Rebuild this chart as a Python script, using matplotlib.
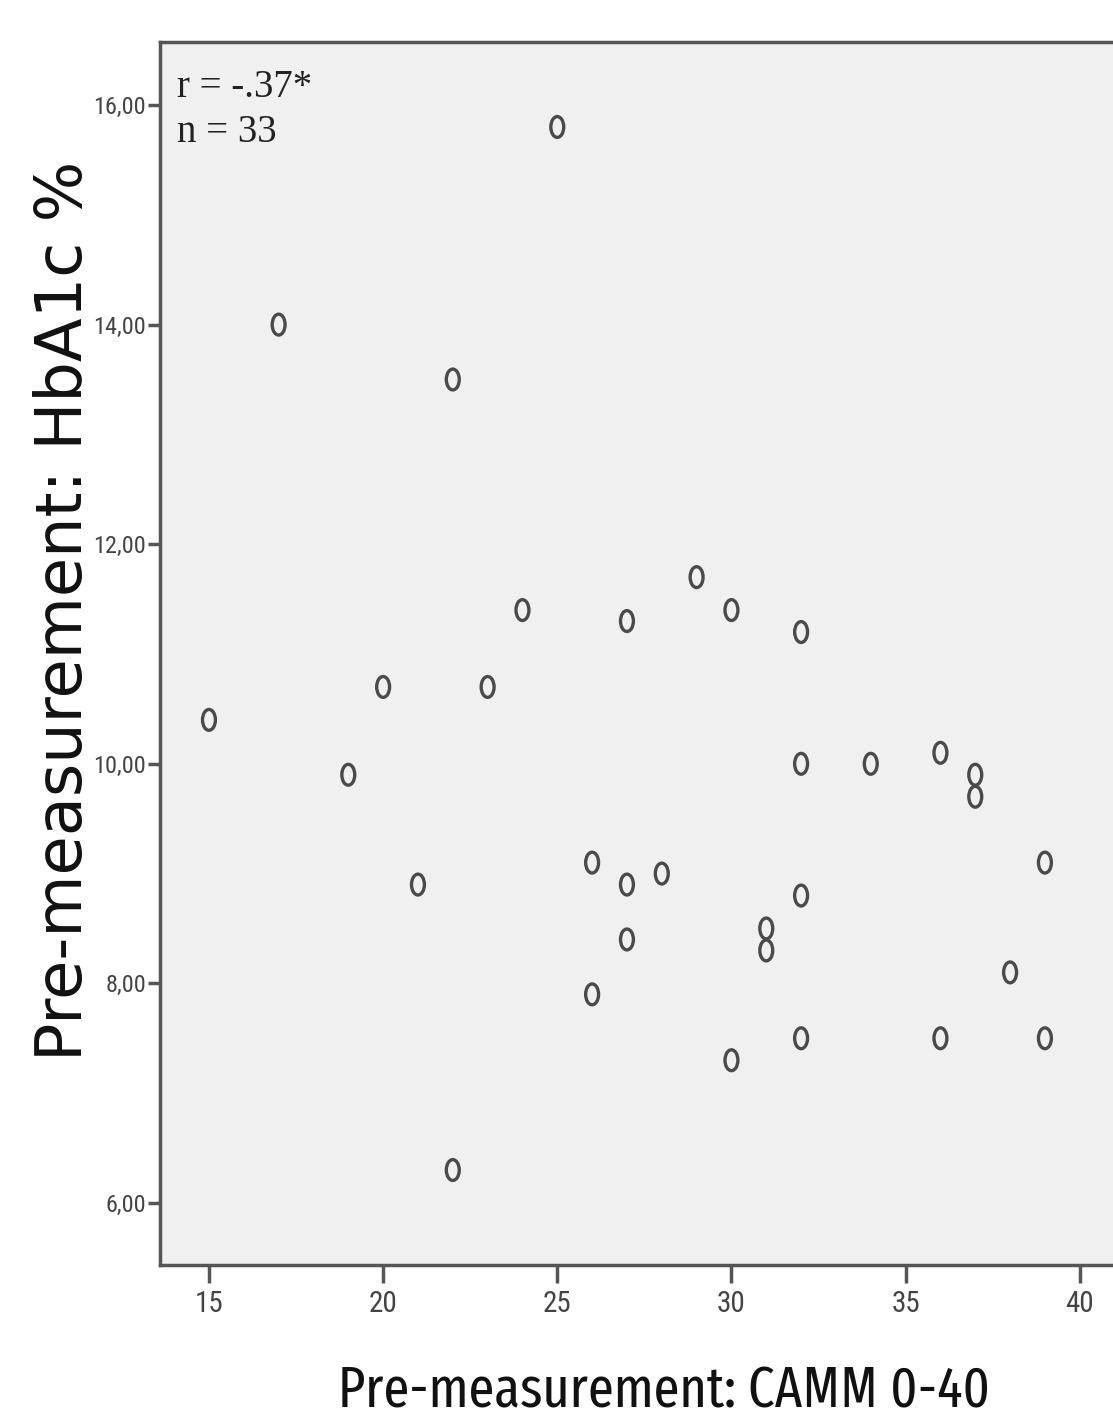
import matplotlib
matplotlib.use("Agg")
import matplotlib.pyplot as plt
from matplotlib.markers import MarkerStyle
from matplotlib.transforms import Affine2D
from matplotlib.ticker import FuncFormatter

# pre-measurement scores
camm = [15, 17, 19, 20, 21, 22, 22, 23, 24, 25, 26, 26, 27, 27, 27, 28, 29,
        30, 30, 31, 31, 32, 32, 32, 32, 34, 36, 36, 37, 37, 38, 39, 39]
hba1c = [10.4, 14.0, 9.9, 10.7, 8.9, 13.5, 6.3, 10.7, 11.4, 15.8, 9.1, 7.9, 11.3, 8.9, 8.4, 9.0, 11.7,
         11.4, 7.3, 8.5, 8.3, 11.2, 10.0, 8.8, 7.5, 10.0, 10.1, 7.5, 9.9, 9.7, 8.1, 9.1, 7.5]
x_ticks = [15, 20, 25, 30, 35, 40]
y_ticks = [6, 8, 10, 12, 14, 16]
stats_text = "r = -.37*\nn = 33"

tick_font = ["Roboto Condensed", "DejaVu Sans"]

fig = plt.figure(figsize=(11.13, 14.22), dpi=100)
# axes run off the right edge like in the cropped original
ax = fig.add_axes([160 / 1113, 157 / 1422, 972 / 1113, 1223 / 1422])
ax.set_facecolor("#f0f0f0")

oval = MarkerStyle("o", transform=Affine2D().scale(0.62, 1.0))
ax.scatter(camm, hba1c, marker=oval, s=225, facecolors="none",
           edgecolors="#4a4a4a", linewidths=2.4, zorder=3)

ax.set_xlim(13.594, 41.5)
ax.set_ylim(5.435, 16.574)
ax.set_xticks(x_ticks)
ax.set_yticks(y_ticks)
ax.yaxis.set_major_formatter(FuncFormatter(lambda v, _: f"{v:.2f}".replace(".", ",")))

for side in ["left", "bottom", "top", "right"]:
    ax.spines[side].set_color("#555555")
    ax.spines[side].set_linewidth(2.5)

ax.tick_params(axis="y", direction="out", length=9, width=2.5, color="#555555",
               labelsize=17.5, labelcolor="#444444", pad=1)
ax.tick_params(axis="x", direction="out", length=13, width=2.5, color="#555555",
               labelsize=21, labelcolor="#444444", pad=5)
for lab in ax.get_xticklabels() + ax.get_yticklabels():
    lab.set_family(tick_font)

ax.text(0.018, 0.978, stats_text, transform=ax.transAxes, va="top", ha="left",
        fontsize=28, family=["Liberation Serif", "DejaVu Serif"], color="#222222",
        linespacing=1.3)

fig.text(64 / 1113, 1 - 611 / 1422, "Pre-measurement: HbA1c %", rotation=90,
         ha="center", va="center", fontsize=46, family=["DejaVu Sans"], color="#111111")
fig.text(664 / 1113, 1 - 1392 / 1422, "Pre-measurement: CAMM 0-40",
         ha="center", va="center", fontsize=41,
         family=["Fira Sans Extra Condensed", "Fira Sans Condensed", "DejaVu Sans"],
         weight="normal", color="#111111")

fig.savefig("out.png", dpi=100)
